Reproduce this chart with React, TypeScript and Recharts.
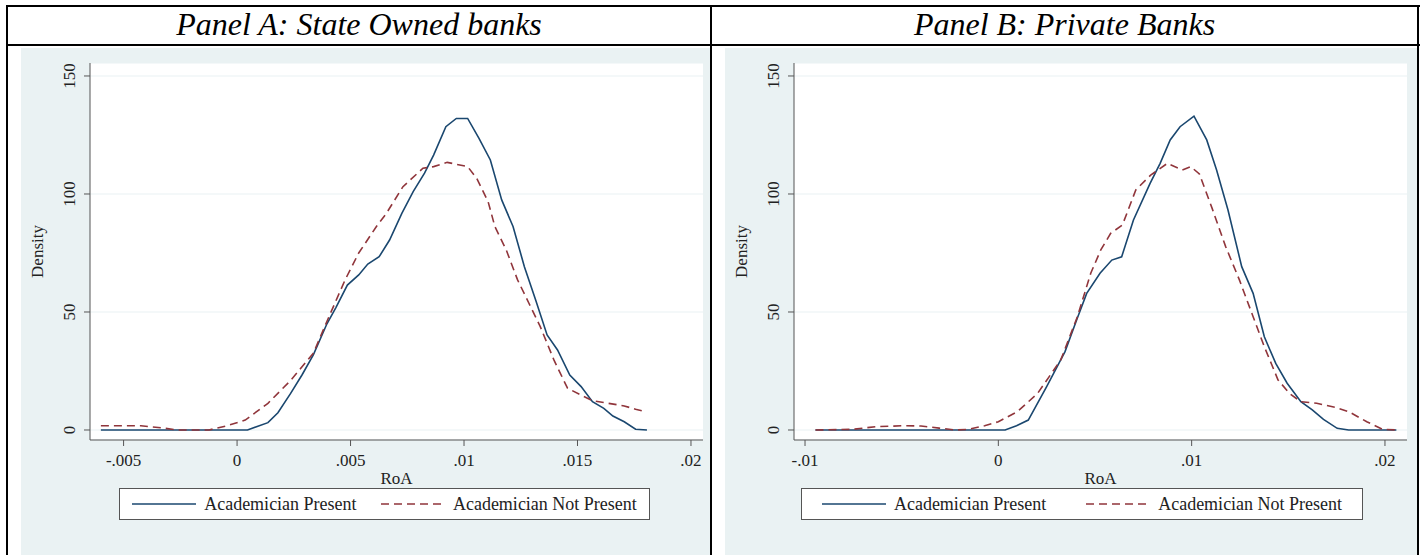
import { LineChart, Line, XAxis, YAxis, CartesianGrid } from 'recharts';

const SERIF = "'Liberation Serif', 'Times New Roman', serif";
const NAVY = '#1a476f';
const MAROON = '#90353b';
const BG = '#eaf2f3';

// Panel A: State owned banks
const A_PRESENT_ROA = [-0.006, 0.00046, 0.00136, 0.0018, 0.00236, 0.00286, 0.00336, 0.00396, 0.00436, 0.00486, 0.00536, 0.00576, 0.00626, 0.00672, 0.00726, 0.00776, 0.00826, 0.00866, 0.0092, 0.00966, 0.01016, 0.01066, 0.01116, 0.01166, 0.01216, 0.01266, 0.01316, 0.01366, 0.01412, 0.01466, 0.01516, 0.01566, 0.01616, 0.01656, 0.01706, 0.01756, 0.01806];
const A_PRESENT_DENSITY = [0, 0, 3.1, 7.3, 15.5, 23.3, 31.8, 45, 52, 61.4, 65.7, 70.3, 73.4, 80.5, 91.8, 101, 108.8, 116.5, 128.5, 132, 132, 123.6, 114.4, 97.5, 86.2, 69.2, 55, 40.3, 33.9, 23.3, 18.4, 12, 9.2, 5.9, 3.5, 0.3, 0];
const A_ABSENT_ROA = [-0.006, -0.00424, -0.00324, -0.00264, -0.00124, -0.00044, 0.00036, 0.00136, 0.00236, 0.00336, 0.00408, 0.00476, 0.00536, 0.00614, 0.00658, 0.00731, 0.00819, 0.00866, 0.00926, 0.01016, 0.01056, 0.01106, 0.01136, 0.01186, 0.01236, 0.01286, 0.01336, 0.01396, 0.01456, 0.01516, 0.01566, 0.01636, 0.01706, 0.01756, 0.01796];
const A_ABSENT_DENSITY = [1.8, 1.8, 0.8, 0, 0, 1.8, 4.2, 11.3, 21, 32.5, 48.7, 63.6, 75, 86.2, 91.8, 103.1, 110.9, 111.6, 113.4, 111.6, 106.6, 96.8, 86.2, 76.3, 63.6, 53.7, 43.8, 29.7, 17.7, 14.8, 12.4, 11.3, 10.2, 8.8, 7.8];

// Panel B: private banks
const B_PRESENT_ROA = [-0.00946, 0.00035, 0.00094, 0.00155, 0.0025, 0.00345, 0.00405, 0.00457, 0.00526, 0.00587, 0.00638, 0.00699, 0.00785, 0.00837, 0.00889, 0.0094, 0.01012, 0.01078, 0.01129, 0.01188, 0.01259, 0.01318, 0.01376, 0.01435, 0.01494, 0.01565, 0.01624, 0.01682, 0.01753, 0.01812, 0.02059];
const B_PRESENT_DENSITY = [0, 0, 1.8, 4.2, 18.4, 33.2, 46.6, 57.9, 66.4, 72, 73.4, 89, 104.5, 113, 122.9, 128.5, 133, 122.9, 110.2, 93.2, 69.2, 57.9, 39.5, 28.2, 19.8, 12, 8.5, 4.5, 0.7, 0, 0];
const B_ABSENT_ROA = [-0.00946, -0.00753, -0.00635, -0.00494, -0.004, -0.00306, -0.00224, -0.00153, -0.00071, 0, 0.00099, 0.00203, 0.00323, 0.00409, 0.00478, 0.0053, 0.00581, 0.00642, 0.00711, 0.00788, 0.00875, 0.00952, 0.00995, 0.0104, 0.01106, 0.01176, 0.01247, 0.01318, 0.01376, 0.01447, 0.01506, 0.01565, 0.01647, 0.01741, 0.01812, 0.01906, 0.01988, 0.02059];
const B_ABSENT_DENSITY = [0, 0.3, 1.4, 1.8, 1.7, 0.8, 0, 0.3, 1.8, 3.5, 7.8, 15.5, 29.7, 48, 66.4, 76.3, 83.3, 86.9, 101.7, 108, 113, 110.2, 111.6, 108.5, 93.9, 77.7, 63.6, 48, 35.3, 21.2, 15.5, 12, 11.3, 9.6, 7.8, 3.5, 0.3, 0];

const A_TICKS = [-0.005, 0, 0.005, 0.01, 0.015, 0.02];
const A_TICK_LABELS = ['-.005', '0', '.005', '.01', '.015', '.02'];
const B_TICKS = [-0.01, 0, 0.01, 0.02];
const B_TICK_LABELS = ['-.01', '0', '.01', '.02'];
const Y_TICKS = [0, 50, 100, 150];

const SERIES_NAMES = ['Academician Present', 'Academician Not Present'];

const toPoints = (xs: number[], ys: number[]) => xs.map((x, i) => ({ x, d: ys[i] }));

const YTick = ({ x, y, payload }: any) => (
  <text
    x={x - 7}
    y={y}
    transform={`rotate(-90, ${x - 7}, ${y})`}
    textAnchor="middle"
    fontSize={17}
    fontFamily={SERIF}
    fill="#222"
  >
    {payload.value}
  </text>
);

function DensityPanel({ left, width, xDomain, ticks, tickLabels, present, absent }: any) {
  return (
    <LineChart
      width={width}
      height={507}
      margin={{ top: 15, right: width - 69 - 613, left: 0, bottom: 75 }}
      style={{ position: 'absolute', left, top: 48 }}
    >
      <CartesianGrid horizontal vertical={false} stroke={BG} strokeWidth={1.2} fill="#fff" />
      <XAxis
        type="number"
        dataKey="x"
        domain={xDomain}
        ticks={ticks}
        tickFormatter={(v: number) => tickLabels[ticks.indexOf(v)] ?? String(v)}
        tick={{ fontSize: 17, fill: '#222', fontFamily: SERIF }}
        tickSize={6}
        tickMargin={8}
        height={40}
        stroke="#555"
        interval={0}
        label={({ viewBox }: any) => (
          <text x={viewBox.x + viewBox.width / 2} y={viewBox.y + 44} textAnchor="middle" fontSize={17} fontFamily={SERIF} fill="#222">
            RoA
          </text>
        )}
      />
      <YAxis
        type="number"
        domain={[-4.24, 155.5]}
        ticks={Y_TICKS}
        tick={<YTick />}
        tickSize={6}
        width={69}
        stroke="#555"
        interval={0}
        label={({ viewBox }: any) => (
          <text
            x={viewBox.x + 22}
            y={viewBox.y + viewBox.height / 2}
            transform={`rotate(-90, ${viewBox.x + 22}, ${viewBox.y + viewBox.height / 2})`}
            textAnchor="middle"
            fontSize={17}
            fontFamily={SERIF}
            fill="#222"
          >
            Density
          </text>
        )}
      />
      <Line data={present} dataKey="d" name={SERIES_NAMES[0]} type="linear" stroke={NAVY} strokeWidth={1.6} dot={false} isAnimationActive={false} />
      <Line data={absent} dataKey="d" name={SERIES_NAMES[1]} type="linear" stroke={MAROON} strokeWidth={1.6} strokeDasharray="8 5" dot={false} isAnimationActive={false} />
    </LineChart>
  );
}

function LegendBox({ left, width }: { left: number; width: number }) {
  const item = (dashed: boolean, label: string) => (
    <div style={{ display: 'flex', alignItems: 'center' }}>
      <svg width={64} height={6} style={{ marginRight: 8 }}>
        <line x1={0} y1={3} x2={64} y2={3} stroke={dashed ? MAROON : NAVY} strokeWidth={1.6} strokeDasharray={dashed ? '8 5' : undefined} />
      </svg>
      <span>{label}</span>
    </div>
  );
  return (
    <div
      style={{
        position: 'absolute', left, top: 488, width, height: 32, boxSizing: 'border-box',
        border: '1px solid #555', background: '#fff', display: 'flex', alignItems: 'center',
        justifyContent: 'space-around', fontFamily: SERIF, fontSize: 18, color: '#222',
      }}
    >
      {item(false, SERIES_NAMES[0])}
      {item(true, SERIES_NAMES[1])}
    </div>
  );
}

const rule = (style: any) => <div style={{ position: 'absolute', background: '#000', ...style }} />;

const titleStyle: any = {
  position: 'absolute', top: 5, height: 38, display: 'flex', alignItems: 'center', justifyContent: 'center',
  fontFamily: SERIF, fontStyle: 'italic', fontSize: 32,
};

export default function App() {
  return (
    <div style={{ position: 'absolute', left: 0, top: 0, width: 1424, height: 555, background: '#fff', overflow: 'hidden' }}>
      <div style={{ position: 'absolute', left: 21, top: 48, width: 689, height: 507, background: BG }} />
      <div style={{ position: 'absolute', left: 725, top: 48, width: 692, height: 507, background: BG }} />
      {rule({ left: 6, top: 5, width: 1414, height: 2 })}
      {rule({ left: 6, top: 44, width: 1414, height: 2 })}
      {rule({ left: 6, top: 5, width: 2, height: 550 })}
      {rule({ left: 710, top: 5, width: 2, height: 550 })}
      {rule({ left: 1417, top: 5, width: 2, height: 550 })}
      <div style={{ ...titleStyle, left: 8, width: 702 }}>Panel A: State Owned banks</div>
      <div style={{ ...titleStyle, left: 712, width: 705 }}>Panel B: Private Banks</div>
      <DensityPanel
        left={21}
        width={688}
        xDomain={[-0.00648, 0.02053]}
        ticks={A_TICKS}
        tickLabels={A_TICK_LABELS}
        present={toPoints(A_PRESENT_ROA, A_PRESENT_DENSITY)}
        absent={toPoints(A_ABSENT_ROA, A_ABSENT_DENSITY)}
      />
      <DensityPanel
        left={725}
        width={692}
        xDomain={[-0.01057, 0.02114]}
        ticks={B_TICKS}
        tickLabels={B_TICK_LABELS}
        present={toPoints(B_PRESENT_ROA, B_PRESENT_DENSITY)}
        absent={toPoints(B_ABSENT_ROA, B_ABSENT_DENSITY)}
      />
      <LegendBox left={119} width={531} />
      <LegendBox left={801} width={562} />
    </div>
  );
}
